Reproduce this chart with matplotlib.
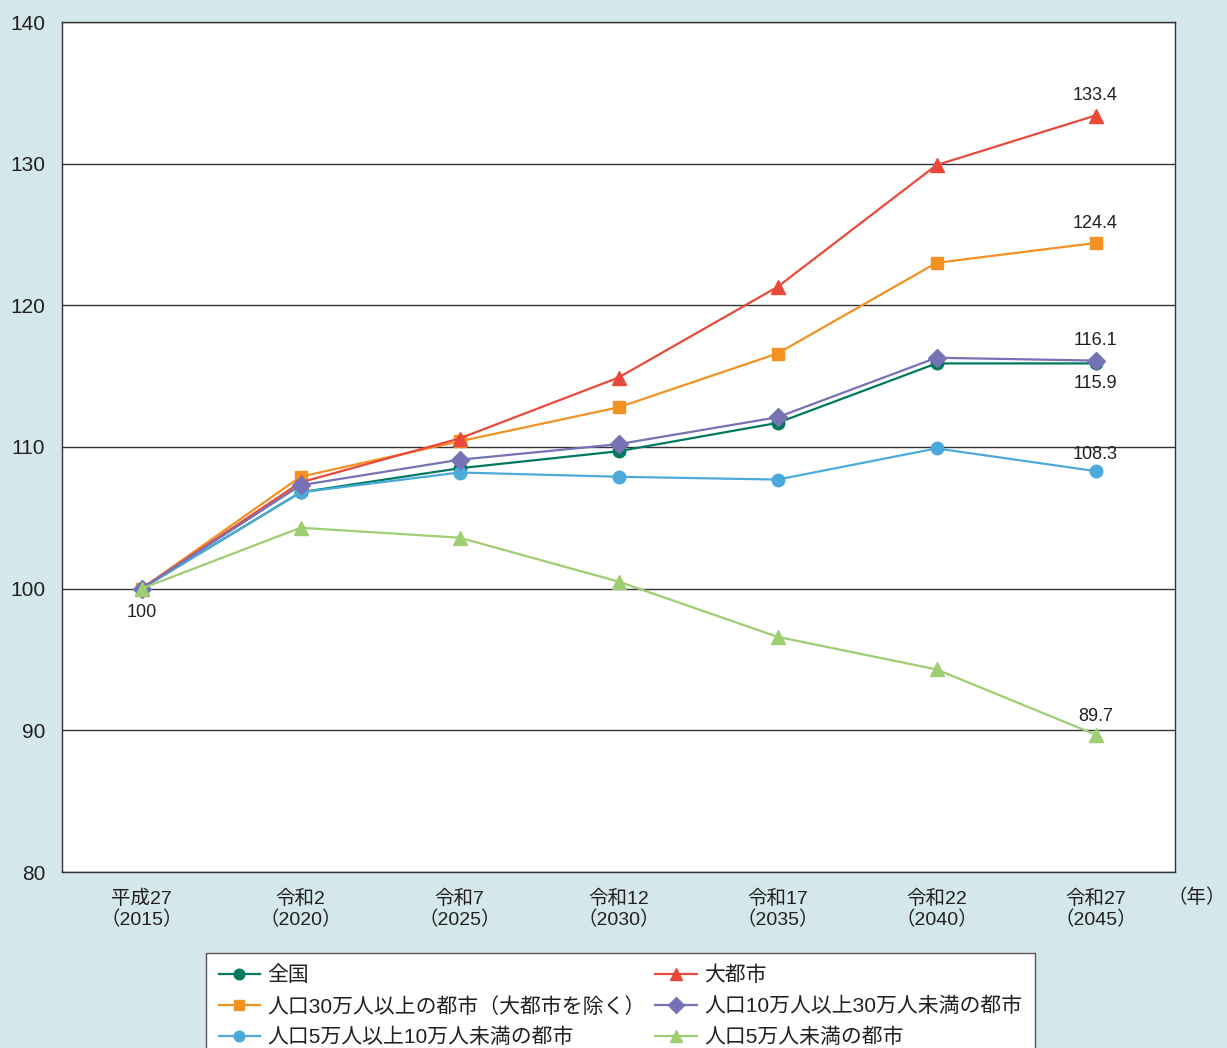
import numpy as np
import matplotlib
matplotlib.use('Agg')
import matplotlib.pyplot as plt

plt.rcParams['font.family'] = ['Liberation Sans', 'Noto Sans CJK JP']

# data
categories = ['平成27\n（2015）', '令和2\n（2020）', '令和7\n（2025）', '令和12\n（2030）',
              '令和17\n（2035）', '令和22\n（2040）', '令和27\n（2045）']
zenkoku = [100, 106.8, 108.5, 109.7, 111.7, 115.9, 115.9]
daitoshi = [100, 107.5, 110.6, 114.9, 121.3, 129.9, 133.4]
over30 = [100, 107.9, 110.4, 112.8, 116.6, 123.0, 124.4]
from10to30 = [100, 107.3, 109.1, 110.2, 112.1, 116.3, 116.1]
from5to10 = [100, 106.8, 108.2, 107.9, 107.7, 109.9, 108.3]
under5 = [100, 104.3, 103.6, 100.5, 96.6, 94.3, 89.7]

names = ['全国', '大都市', '人口30万人以上の都市（大都市を除く）',
         '人口10万人以上30万人未満の都市', '人口5万人以上10万人未満の都市', '人口5万人未満の都市']

bg = '#d4e8ec'
fig = plt.figure(figsize=(12.27, 10.48), dpi=100, facecolor=bg)
ax = fig.add_axes([62/1227, 1-872/1048, (1175-62)/1227, (872-22)/1048])
ax.set_facecolor('white')

x = np.arange(len(categories))
series = [
    (zenkoku, '#007a5e', 'o', 9),
    (daitoshi, '#e9493a', '^', 10),
    (over30, '#f39123', 's', 9),
    (from10to30, '#7771b5', 'D', 9),
    (from5to10, '#4ba9dc', 'o', 9),
    (under5, '#9fce72', '^', 10),
]
handles = []
for (vals, col, mk, ms), nm in zip(series, names):
    h, = ax.plot(x, vals, color=col, marker=mk, markersize=ms, lw=1.6, label=nm)
    handles.append(h)
# draw order like the reference
for h, z in zip(handles, [3, 4, 3, 5, 4, 6]):
    h.set_zorder(z)

ax.set_xlim(-0.5, 6.5)
ax.set_ylim(80, 140)
ax.set_yticks(np.arange(80, 141, 10))
ax.set_xticks(x)
ax.set_xticklabels(categories, fontsize=14, color='#231f20', linespacing=1.15)
ax.tick_params(axis='y', labelsize=15, colors='#231f20', length=0, pad=12)
ax.tick_params(axis='x', length=0, pad=13)
ax.yaxis.grid(True, color='#333333', lw=1.0)
ax.set_axisbelow(True)
for s in ax.spines.values():
    s.set_color('#333333')
    s.set_linewidth(1.0)

# value labels
lab = dict(fontsize=13, color='#231f20', ha='center')
ax.annotate('100', (0, 100), xytext=(0, -11), textcoords='offset points', va='top', **lab)
ax.annotate('133.4', (6, daitoshi[6]), xytext=(0, 8), textcoords='offset points', va='bottom', **lab)
ax.annotate('124.4', (6, over30[6]), xytext=(0, 8), textcoords='offset points', va='bottom', **lab)
ax.annotate('116.1', (6, from10to30[6]), xytext=(0, 8), textcoords='offset points', va='bottom', **lab)
ax.annotate('115.9', (6, zenkoku[6]), xytext=(0, -8), textcoords='offset points', va='top', **lab)
ax.annotate('108.3', (6, from5to10[6]), xytext=(0, 6), textcoords='offset points', va='bottom', **lab)
ax.annotate('89.7', (6, under5[6]), xytext=(0, 7), textcoords='offset points', va='bottom', **lab)

fig.text(1226/1227, 1-898/1048, '（年）', fontsize=14, color='#231f20', ha='right', va='center')

order = [0, 2, 4, 1, 3, 5]
leg = fig.legend([handles[i] for i in order], [names[i] for i in order], ncol=2,
                 loc='upper left', bbox_to_anchor=(206/1227, 1-953/1048),
                 borderaxespad=0, fontsize=15, frameon=True, fancybox=False,
                 edgecolor='#555555', framealpha=1.0, handlelength=2.0,
                 handletextpad=0.35, columnspacing=0.45, borderpad=0.6,
                 labelspacing=0.55, markerscale=0.85)
leg.get_frame().set_linewidth(1.0)
for t in leg.get_texts():
    t.set_color('#231f20')

fig.savefig('out.png', dpi=100, facecolor=bg)
